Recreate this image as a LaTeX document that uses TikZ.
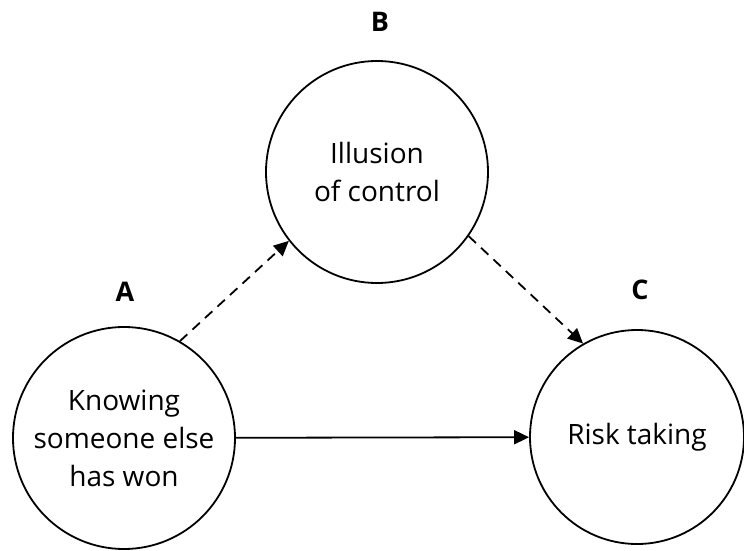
\documentclass[tikz,border=0pt]{standalone}
\usepackage{fontspec}
\setmainfont{Open Sans}
\usepackage{tikz}
\usetikzlibrary{arrows.meta}

\tikzset{
    factor/.style={circle, draw, line width=1.8pt, minimum size=222pt, inner sep=0pt, align=center, font=\fontsize{28}{38}\selectfont},
    letter/.style={font=\bfseries\fontsize{27}{30}\selectfont},
    link/.style={-{Triangle[length=15pt, width=14pt]}, line width=1.8pt},
    weak/.style={link, dash pattern=on 10pt off 7pt}
}

\begin{document}
\begin{tikzpicture}[x=1pt, y=-1pt]
        \useasboundingbox (0, 0) rectangle (744, 551);

        \node[factor] at (124, 438)   (a) {Knowing\\someone else\\has won};
        \node[factor] at (377, 172)   (b) {Illusion\\of control};
        \node[factor, minimum size=214pt] at (637, 437)   (c) {Risk taking};

        \node[letter] at (125, 292)   (a_l) {A};
        \node[letter] at (380, 22)    (b_l) {B};
        \node[letter] at (640, 290)   (c_l) {C};

        \draw [weak] (a.60) -- (b.218);
        \draw [weak] (b.-35) -- (c.120);
        \draw [link] (a) -- (c);
    \end{tikzpicture}
\end{document}
